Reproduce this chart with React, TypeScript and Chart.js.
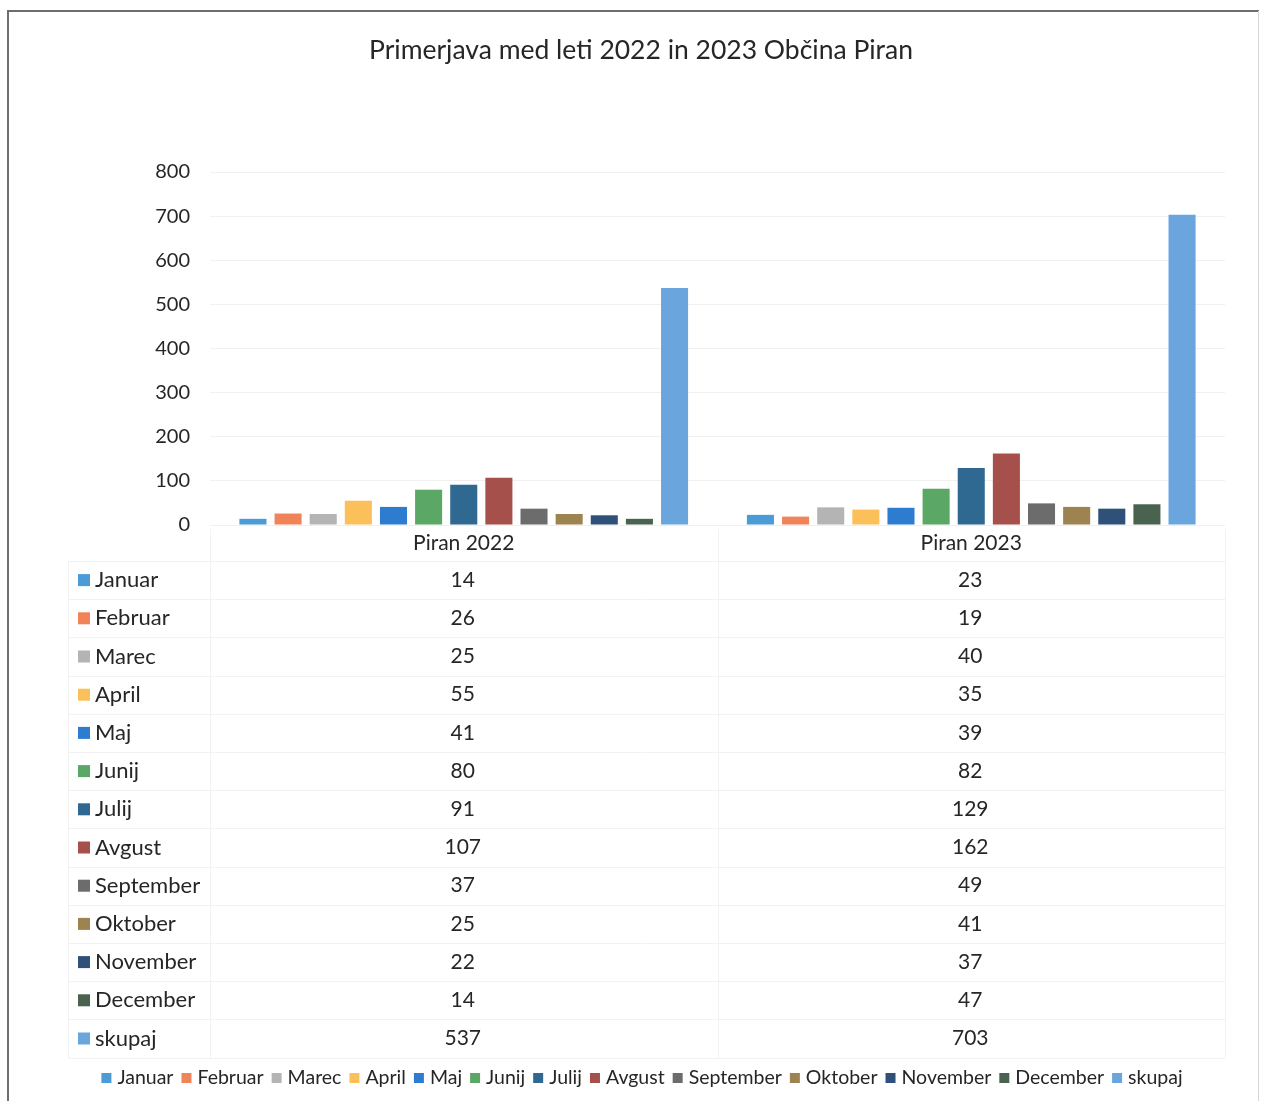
import React, { useEffect, useRef } from "react";
import { Chart, registerables } from "chart.js";

Chart.register(...registerables);

const TITLE = "Primerjava med leti 2022 in 2023 Občina Piran";
const categories = ["Piran 2022", "Piran 2023"];
const seriesNames = [
  "Januar", "Februar", "Marec", "April", "Maj", "Junij", "Julij",
  "Avgust", "September", "Oktober", "November", "December", "skupaj",
];
const values2022 = [14, 26, 25, 55, 41, 80, 91, 107, 37, 25, 22, 14, 537];
const values2023 = [23, 19, 40, 35, 39, 82, 129, 162, 49, 41, 37, 47, 703];
const seriesColors = [
  "#4B9BD6", "#F08458", "#B4B4B4", "#FBC05A", "#2E7CD0", "#5BA766", "#2F6992",
  "#A5504A", "#6C6C6C", "#9D834F", "#2F5078", "#4A6351", "#6AA6DD",
];
const yMax = 800;
const yStep = 100;

const FONT = "Lato, 'Open Sans', sans-serif";
const TEXT = "#262626";

export default function App() {
  const ref = useRef<HTMLCanvasElement | null>(null);

  useEffect(() => {
    document.body.style.margin = "0";
    const canvas = ref.current;
    if (!canvas) return;

    const framePlugin = {
      id: "frame",
      beforeDraw(chart: any) {
        const ctx = chart.ctx;
        ctx.save();
        ctx.fillStyle = "#ffffff";
        ctx.fillRect(0, 0, chart.width, chart.height);
        ctx.lineWidth = 2;
        ctx.strokeStyle = "#6e6e6e";
        ctx.beginPath();
        ctx.moveTo(8, 1101);
        ctx.lineTo(8, 11);
        ctx.lineTo(1259, 11);
        ctx.stroke();
        ctx.lineWidth = 1;
        ctx.strokeStyle = "#d6d6d6";
        ctx.beginPath();
        ctx.moveTo(1258.5, 11);
        ctx.lineTo(1258.5, 1101);
        ctx.stroke();
        // title
        ctx.fillStyle = TEXT;
        ctx.font = `26.5px ${FONT}`;
        ctx.textAlign = "center";
        ctx.textBaseline = "middle";
        ctx.fillText(TITLE, 641, 50);
        ctx.restore();
      },
      afterDraw(chart: any) {
        const ctx = chart.ctx;
        const xs = chart.scales.x;
        const area = chart.chartArea;
        const top = area.bottom;
        const headerH = 36;
        const rowH = 38.2;
        const n = seriesNames.length;
        const tableBottom = top + headerH + rowH * n;
        const leftEdge = 68;
        ctx.save();
        // grid lines of table
        ctx.strokeStyle = "#f2f2f2";
        ctx.lineWidth = 1;
        const cats = categories.length;
        const half = (xs.getPixelForValue(1) - xs.getPixelForValue(0)) / 2;
        const bounds: number[] = [];
        for (let c = 0; c < cats; c++) bounds.push(xs.getPixelForValue(c) - half);
        bounds.push(xs.getPixelForValue(cats - 1) + half);
        ctx.beginPath();
        for (const b of bounds) {
          const x = Math.round(b) + 0.5;
          ctx.moveTo(x, top + 4);
          ctx.lineTo(x, tableBottom);
        }
        ctx.moveTo(leftEdge + 0.5, top + headerH);
        ctx.lineTo(leftEdge + 0.5, tableBottom);
        for (let i = 0; i <= n; i++) {
          const y = Math.round(top + headerH + rowH * i) + 0.5;
          ctx.moveTo(leftEdge, y);
          ctx.lineTo(bounds[bounds.length - 1], y);
        }
        ctx.stroke();
        // header
        ctx.fillStyle = TEXT;
        ctx.font = `21px ${FONT}`;
        ctx.textBaseline = "middle";
        ctx.textAlign = "center";
        categories.forEach((c, ci) => {
          ctx.fillText(c, xs.getPixelForValue(ci), top + headerH / 2);
        });
        // rows
        for (let i = 0; i < n; i++) {
          const cy = top + headerH + rowH * i + rowH / 2;
          ctx.fillStyle = seriesColors[i];
          ctx.fillRect(78, cy - 6, 12, 12);
          ctx.fillStyle = TEXT;
          ctx.textAlign = "left";
          ctx.font = `22px ${FONT}`;
          ctx.fillText(seriesNames[i], 95, cy);
          ctx.textAlign = "center";
          ctx.font = `21px ${FONT}`;
          ctx.fillText(String(values2022[i]), xs.getPixelForValue(0) - 1, cy);
          ctx.fillText(String(values2023[i]), xs.getPixelForValue(1) - 1, cy);
        }
        // legend
        ctx.font = `19.5px ${FONT}`;
        ctx.textAlign = "left";
        const box = 10;
        const boxGap = 6;
        const itemGap = 8;
        const widths = seriesNames.map((s) => box + boxGap + ctx.measureText(s).width);
        const total = widths.reduce((a, b) => a + b, 0) + itemGap * (n - 1);
        let x = 642 - total / 2;
        const ly = 1078;
        for (let i = 0; i < n; i++) {
          ctx.fillStyle = seriesColors[i];
          ctx.fillRect(x, ly - box / 2, box, box);
          ctx.fillStyle = TEXT;
          ctx.fillText(seriesNames[i], x + box + boxGap, ly);
          x += widths[i] + itemGap;
        }
        ctx.restore();
      },
    };

    const datasets = seriesNames.map((name, i) => ({
      label: name,
      data: [values2022[i], values2023[i]],
      backgroundColor: seriesColors[i],
      borderWidth: 0,
      categoryPercentage: 0.9,
      barPercentage: 0.77,
    }));

    const chart = new Chart(canvas, {
      type: "bar",
      data: { labels: categories, datasets },
      plugins: [framePlugin],
      options: {
        animation: false,
        responsive: false,
        maintainAspectRatio: false,
        layout: { padding: { left: 8, right: 38, top: 172, bottom: 8 } },
        plugins: {
          title: { display: false },
          tooltip: { enabled: false },
          legend: { display: false },
        },
        scales: {
          x: {
            grid: { display: false },
            border: { display: false },
            ticks: { display: false },
            afterFit(scale: any) {
              scale.height = 1101 - 525 - 8;
            },
          },
          y: {
            min: 0,
            max: yMax,
            ticks: {
              stepSize: yStep,
              font: { family: FONT, size: 20 },
              color: TEXT,
              padding: 20,
            },
            grid: { color: "#f0f0f0", drawTicks: false },
            border: { display: false },
            afterFit(scale: any) {
              scale.width = 202;
            },
          },
        },
      },
    });
    return () => chart.destroy();
  }, []);

  return (
    <div style={{ width: 1263, height: 1101 }}>
      <canvas ref={ref} width={1263} height={1101} style={{ display: "block" }} />
    </div>
  );
}
